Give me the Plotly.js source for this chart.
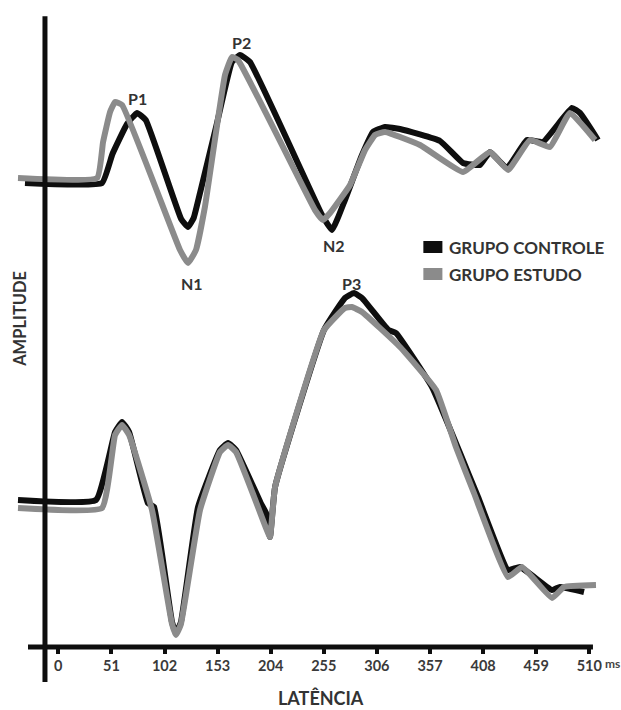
<!DOCTYPE html>
<html>
<head>
<meta charset="utf-8">
<script src="https://cdn.plot.ly/plotly-3.0.1.min.js"></script>
<style>html,body{margin:0;padding:0;background:#fff;}#chart{width:621px;height:710px;}</style>
</head>
<body>
<div id="chart"></div>
<script>
// Latency ticks (ms)
const tickValues = [0, 51, 102, 153, 204, 255, 306, 357, 408, 459, 510];
const tickLabels = ["0", "51", "102", "153", "204", "255", "306", "357", "408", "459", "510"];
const seriesNames = ["GRUPO CONTROLE", "GRUPO ESTUDO"];

// Upper waveform (P1, N1, P2, N2) - latency (ms) and amplitude (arbitrary units)
const topControlMs  = [-32.0, 42.0, 52.0, 66.0, 75.6, 84.0, 118.0, 124.6, 130.0, 136.1, 152.0, 166.8, 174.5, 184.1, 253.3, 262.9, 275.3, 291.7, 302.3, 313.8, 328.2, 366.6, 388.7, 405.0, 414.6, 430.9, 450.1, 465.5, 493.3, 501.1, 518.3];
const topControlAmp = [-0.3, -0.3, 2.6, 5.6, 6.7, 6.0, -3.9, -4.7, -3.8, -1.3, 5.5, 11.8, 12.5, 11.8, -3.5, -5.0, -2.0, 2.5, 4.8, 5.3, 5.1, 3.9, 1.7, 1.5, 2.8, 1.2, 4.0, 3.8, 7.2, 6.7, 4.0];
const topStudyMs    = [-38.7, 37.3, 43.0, 49.7, 54.5, 61.3, 116.9, 124.6, 132.2, 140.8, 160.1, 166.8, 172.6, 246.5, 254.2, 261.0, 280.2, 294.6, 304.2, 313.8, 347.4, 388.7, 414.6, 431.9, 453.0, 472.2, 491.4, 515.5];
const topStudyAmp   = [0.2, 0.2, 3.8, 6.8, 7.8, 7.5, -7.0, -8.3, -7.0, -2.7, 10.5, 12.3, 12.0, -3.0, -4.0, -3.3, -0.5, 3.0, 4.5, 4.8, 3.5, 0.8, 2.8, 1.0, 4.0, 3.3, 6.7, 4.0];

// Lower waveform (P3)
const lowControlMs  = [-38.7, 36.2, 54.5, 61.2, 68.0, 86.0, 92.0, 109.2, 113.0, 117.8, 134.2, 155.3, 163.0, 170.7, 194.4, 199.5, 203.3, 208.2, 255.2, 275.3, 284.0, 291.7, 317.0, 324.3, 358.9, 385.8, 403.1, 431.9, 443.5, 474.2, 481.8, 504.9];
const lowControlAmp = [0.2, 0.2, 7.0, 8.0, 7.0, -0.1, -0.5, -12.0, -13.1, -12.0, -0.5, 5.2, 5.9, 5.2, -0.1, -1.1, -3.5, 1.5, 17.2, 20.4, 20.9, 20.4, 17.2, 16.9, 11.5, 4.9, 0.5, -6.8, -6.5, -8.8, -8.5, -9.0];
const lowStudyMs    = [-38.7, 42.0, 54.5, 61.2, 68.0, 90.0, 109.2, 113.0, 117.8, 136.1, 155.3, 163.0, 170.7, 199.5, 203.3, 208.2, 255.2, 275.3, 282.0, 291.7, 328.2, 362.8, 381.9, 399.2, 431.9, 445.4, 474.2, 485.7, 516.4];
const lowStudyAmp   = [-0.6, -0.6, 6.7, 7.7, 6.7, -0.8, -12.2, -13.3, -12.2, -0.8, 5.0, 5.7, 5.0, -2.6, -3.5, 1.5, 17.2, 19.4, 19.5, 19.0, 15.5, 11.2, 5.5, 0.9, -7.5, -6.5, -9.6, -8.5, -8.3];

// Component labels
const compNames = ["P1", "N1", "P2", "N2"];
const compMs    = [76.5, 128.4, 176.4, 264.8];
const compAmp   = [8.2, -10.3, 13.8, -6.5];
const p3Name = "P3", p3Ms = 282.0, p3Amp = 21.9;

const BLACK = "#0e0e0e", GRAY = "#8b8b8b", TXT = "#333333";
const FONT = "Lato, 'Open Sans', sans-serif";

function line(x, y, color, yaxis, name) {
  return {x: x, y: y, type: "scatter", mode: "lines", yaxis: yaxis, name: name, showlegend: false,
          line: {color: color, width: 6, shape: "spline", smoothing: 0.35}, hoverinfo: "skip"};
}

const data = [
  line(topControlMs, topControlAmp, BLACK, "y2", seriesNames[0]),
  line(topStudyMs, topStudyAmp, GRAY, "y2", seriesNames[1]),
  line(lowControlMs, lowControlAmp, BLACK, "y", seriesNames[0]),
  line(lowStudyMs, lowStudyAmp, GRAY, "y", seriesNames[1])
];

function ann(o) { return Object.assign({showarrow: false, xanchor: "center", yanchor: "middle"}, o); }

const annotations = compNames.map((t, i) => ann({
  x: compMs[i], y: compAmp[i], xref: "x", yref: "y2", text: "<b>" + t + "</b>",
  font: {family: FONT, size: 16, color: TXT}
}));
annotations.push(ann({x: p3Ms, y: p3Amp, xref: "x", yref: "y", text: "<b>" + p3Name + "</b>",
  font: {family: FONT, size: 16, color: TXT}}));
annotations.push(ann({x: 373.3, y: 0.618, xref: "x", yref: "paper", xanchor: "left", text: "<b>" + seriesNames[0] + "</b>",
  font: {family: FONT, size: 17, color: TXT}}));
annotations.push(ann({x: 373.3, y: 0.5765, xref: "x", yref: "paper", xanchor: "left", text: "<b>" + seriesNames[1] + "</b>",
  font: {family: FONT, size: 17, color: TXT}}));
annotations.push(ann({x: tickValues[tickValues.length - 1], y: -0.026, xref: "x", yref: "paper", xanchor: "left", xshift: 14,
  text: "<b>ms</b>", font: {family: FONT, size: 12, color: "#444"}}));
annotations.push(ann({x: 252.3, y: -0.079, xref: "x", yref: "paper", text: "<b>LATÊNCIA</b>", borderpad: 0,
  font: {family: FONT, size: 18, color: TXT}}));
annotations.push(ann({x: 0.032, y: 0.507, xref: "paper", yref: "paper", text: "<b>AMPLITUDE</b>", textangle: -90,
  font: {family: FONT, size: 16.5, color: TXT}}));

const shapes = [
  {type: "line", xref: "x", yref: "paper", x0: -29.1, x1: 513.5, y0: 0, y1: 0, line: {color: BLACK, width: 5}},
  {type: "line", xref: "x", yref: "paper", x0: -12.8, x1: -12.8, y0: -0.054, y1: 0.975, line: {color: BLACK, width: 5}},
  {type: "rect", xref: "x", yref: "paper", x0: 350.6, x1: 368.9, y0: 0.609, y1: 0.6275, fillcolor: BLACK, line: {width: 0}},
  {type: "rect", xref: "x", yref: "paper", x0: 350.6, x1: 368.9, y0: 0.5672, y1: 0.5858, fillcolor: GRAY, line: {width: 0}}
];

const layout = {
  width: 621, height: 710,
  margin: {l: 0, r: 0, t: 0, b: 63, pad: 0},
  paper_bgcolor: "#ffffff", plot_bgcolor: "#ffffff",
  showlegend: false,
  xaxis: {range: [-55.99, 540.43], tickvals: tickValues, ticktext: tickLabels, ticks: "outside",
          ticklen: 6, tickwidth: 4, tickcolor: BLACK, showgrid: false, zeroline: false, showline: false,
          tickfont: {family: FONT, size: 14.5, color: "#3a3a3a", weight: "bold"}, fixedrange: true},
  yaxis: {range: [-14.5, 50.2], visible: false, fixedrange: true},
  yaxis2: {range: [-46.7, 18.0], overlaying: "y", visible: false, fixedrange: true},
  shapes: shapes,
  annotations: annotations
};

Plotly.newPlot("chart", data, layout, {staticPlot: true, displayModeBar: false});
</script>
</body>
</html>
